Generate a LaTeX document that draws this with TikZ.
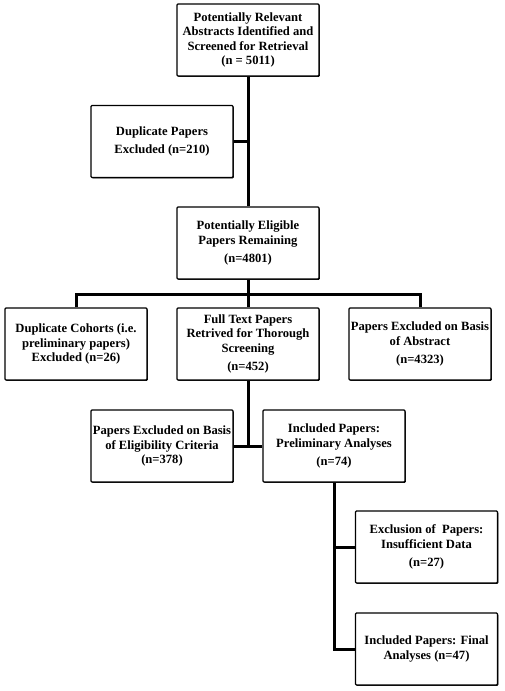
\documentclass[tikz,border=0pt]{standalone}
\usepackage{fontspec}
\setmainfont{Liberation Serif}
\usetikzlibrary{shadows}
\begin{document}
\begin{tikzpicture}[x=1pt,y=-1pt,
  box/.style={draw, line width=1.1pt, rounded corners=1pt, minimum width=142pt, minimum height=72pt,
    fill=white, drop shadow={shadow xshift=0.8pt, shadow yshift=-0.8pt, fill=black, opacity=1},
    inner sep=0pt, align=center, font=\fontsize{12.6}{14.6}\selectfont\bfseries},
  conn/.style={line width=3pt}]
\useasboundingbox (0,0) rectangle (504,691);
\node[box] (b1) at (248,40) {Potentially Relevant\\ Abstracts Identified and\\ Screened for Retrieval\\ (n = 5011)};
\node[box] (dup) at (162,141.5) {Duplicate Papers\\[2.5pt] Excluded (n=210)};
\node[box] (b3) at (248,243) {Potentially Eligible\\ Papers Remaining\\[4pt] (n=4801)};
\node[box] (dc) at (76,344) {Duplicate Cohorts (i.e.\\ preliminary papers)\\ Excluded (n=26)};
\node[box] (ft) at (248,344) {Full Text Papers\\ Retrived for Thorough\\ Screening\\[4pt] (n=452)};
\node[box] (ab) at (420,344) {Papers Excluded on Basis\\ of Abstract\\[4pt] (n=4323)};
\node[box] (el) at (162,446) {Papers Excluded on Basis\\ of Eligibility Criteria\\ (n=378)};
\node[box] (inc) at (334,446) {Included Papers:\\ Preliminary Analyses\\[4pt] (n=74)};
\node[box] (exc) at (426.5,547) {Exclusion of\ \ Papers:\\ Insufficient Data\\[4pt] (n=27)};
\node[box] (fin) at (426.5,649) {Included Papers: Final\\ Analyses (n=47)};
\coordinate (bar) at (248,294);
\draw[conn] (b1.south) -- (b3.north);
\draw[conn] (dup.east) -- (dup.east -| b1.south);
\draw[conn] (b3.south) -- (ft.north);
\draw[conn] (dc.north) |- (bar) -| (ab.north);
\draw[conn] (ft.south) -- (ft.south |- el.east);
\draw[conn] (el.east) -- (inc.west);
\draw[conn] (inc.south) |- (fin.west);
\draw[conn] (exc.west) -- (exc.west -| inc.south);
\end{tikzpicture}
\end{document}
